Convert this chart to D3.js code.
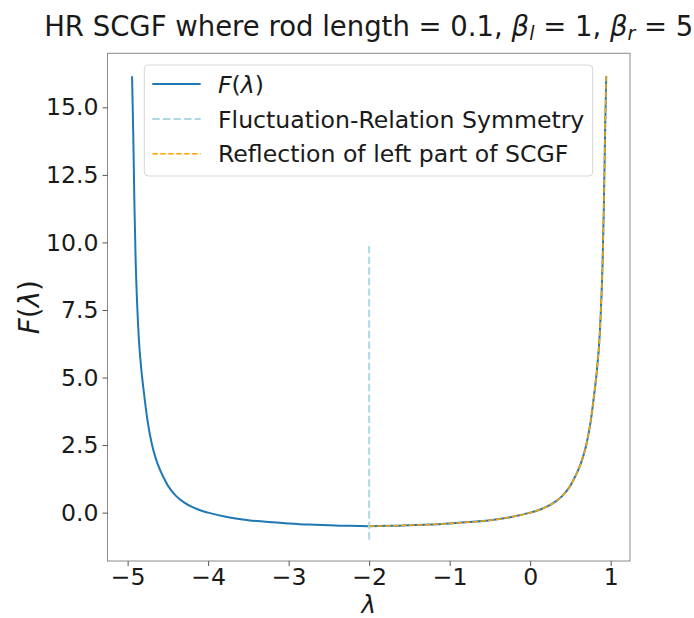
<!DOCTYPE html>
<html><head><meta charset="utf-8">
<script src="https://cdn.jsdelivr.net/npm/d3@7"></script>
<style>body{margin:0;background:#fff;} svg{display:block;font-family:"DejaVu Sans",sans-serif;}</style>
</head><body>
<svg id="c" width="694" height="618"></svg>
<script>
// SCGF F(lambda)
const lambdaVals = [-4.945,-4.93,-4.915,-4.9,-4.88,-4.86,-4.83,-4.8,-4.75,-4.7,-4.65,-4.6,-4.55,-4.5,-4.4,-4.3,-4.2,-4.1,-4.0,-3.75,-3.5,-3.25,-3.0,-2.75,-2.5,-2.25,-2.0,-1.75,-1.5,-1.25,-1.0,-0.75,-0.5,-0.25,0.0,0.1,0.2,0.3,0.4,0.5,0.55,0.6,0.65,0.7,0.75,0.8,0.83,0.86,0.88,0.9,0.915,0.93,0.945];
const fVals      = [16.15,14.0,11.3,9.3,7.6,6.4,5.3,4.5,3.35,2.55,2.0,1.6,1.28,1.0,0.62,0.38,0.21,0.09,0.0,-0.17,-0.28,-0.35,-0.40,-0.44,-0.465,-0.49,-0.50,-0.49,-0.465,-0.44,-0.40,-0.35,-0.28,-0.17,0.0,0.09,0.21,0.38,0.62,1.0,1.28,1.6,2.0,2.55,3.35,4.5,5.3,6.4,7.6,9.3,11.3,14.0,16.15];
// Fluctuation-relation symmetry line
const symX = [-2, -2];
const symY = [-1, 10];
// Reflection of left part of SCGF (lambda -> -4 - lambda)
const reflLambda = [-2.0,-1.75,-1.5,-1.25,-1.0,-0.75,-0.5,-0.25,0.0,0.1,0.2,0.3,0.4,0.5,0.55,0.6,0.65,0.7,0.75,0.8,0.83,0.86,0.88,0.9,0.915,0.93,0.945];
const reflF      = [-0.50,-0.49,-0.465,-0.44,-0.40,-0.35,-0.28,-0.17,0.0,0.09,0.21,0.38,0.62,1.0,1.28,1.6,2.0,2.55,3.35,4.5,5.3,6.4,7.6,9.3,11.3,14.0,16.15];
const xTicks = [-5,-4,-3,-2,-1,0,1];
const yTicks = [0.0,2.5,5.0,7.5,10.0,12.5,15.0];
const legendLabels = ["F(λ)","Fluctuation-Relation Symmetry","Reflection of left part of SCGF"];

const svg = d3.select("#c");
const L=107.5, R=630, T=53.3, B=561;
const x = d3.scaleLinear().domain([-5.25,1.24]).range([L,R]);
const y = d3.scaleLinear().domain([-1.79,17.0]).range([B,T]);

svg.append("defs").append("clipPath").attr("id","clip").append("rect")
  .attr("x",L).attr("y",T).attr("width",R-L).attr("height",B-T);

const g = svg.append("g").attr("clip-path","url(#clip)");
const line = d3.line().x(d=>x(d[0])).y(d=>y(d[1])).curve(d3.curveMonotoneX);
g.append("path").datum(d3.zip(lambdaVals,fVals)).attr("d",line)
  .attr("fill","none").attr("stroke","#1f77b4").attr("stroke-width",2).attr("stroke-linejoin","round");
g.append("path").datum(d3.zip(symX,symY)).attr("d",d3.line().x(d=>x(d[0])).y(d=>y(d[1])))
  .attr("fill","none").attr("stroke","#add8e6").attr("stroke-width",2).attr("stroke-dasharray","7.4,3.2");
g.append("path").datum(d3.zip(reflLambda,reflF)).attr("d",line)
  .attr("fill","none").attr("stroke","orange").attr("stroke-width",1.5).attr("stroke-dasharray","5.55,2.4");

// spines
svg.append("rect").attr("x",L).attr("y",T).attr("width",R-L).attr("height",B-T)
  .attr("fill","none").attr("stroke","#8a8a8a").attr("stroke-width",1);

const xa = svg.append("g").attr("transform",`translate(0,${B})`)
  .call(d3.axisBottom(x).tickValues(xTicks).tickSize(5).tickPadding(2).tickFormat(d=>d<0?"−"+Math.abs(d):d));
const ya = svg.append("g").attr("transform",`translate(${L},0)`)
  .call(d3.axisLeft(y).tickValues(yTicks).tickSize(5).tickPadding(4).tickFormat(d3.format(".1f")));
[xa,ya].forEach(a=>{a.select(".domain").remove();a.selectAll("line").attr("stroke","#555");
  a.selectAll("text").attr("font-size",23.6).attr("fill","#1a1a1a").attr("font-family","DejaVu Sans");});

// title
const title = svg.append("text").attr("x",(L+R)/2).attr("y",36).attr("text-anchor","middle")
  .attr("font-size",27.5).attr("fill","#1a1a1a");
title.append("tspan").text("HR SCGF where rod length = 0.1, ");
title.append("tspan").attr("font-style","italic").text("β");
title.append("tspan").attr("font-style","italic").attr("font-size",19).attr("dy",4).text("l");
title.append("tspan").attr("dy",-4).text(" = 1, ");
title.append("tspan").attr("font-style","italic").text("β");
title.append("tspan").attr("font-style","italic").attr("font-size",19).attr("dy",4).text("r");
title.append("tspan").attr("dy",-4).text(" = 5");

// axis labels
const yl = svg.append("text").attr("transform",`translate(39,${(T+B)/2}) rotate(-90)`)
  .attr("text-anchor","middle").attr("font-size",27.8).attr("fill","#1a1a1a");
yl.append("tspan").attr("font-style","italic").text("F");
yl.append("tspan").text("(");
yl.append("tspan").attr("font-style","italic").text("λ");
yl.append("tspan").text(")");
svg.append("text").attr("x",(L+R)/2).attr("y",612.5).attr("text-anchor","middle")
  .attr("font-size",24.5).attr("font-style","italic").attr("fill","#1a1a1a").text("λ");

// legend
const lg = svg.append("g");
lg.append("rect").attr("x",144.3).attr("y",65).attr("width",448.4).attr("height",111).attr("rx",4)
  .attr("fill","white").attr("fill-opacity",0.8).attr("stroke","#d6d6d6");
const rowsY=[84,119,153.7];
const styles=[{c:"#1f77b4",w:2,d:null},{c:"#add8e6",w:2,d:"7.4,3.2"},{c:"orange",w:1.5,d:"5.55,2.4"}];
legendLabels.forEach((t,i)=>{
  lg.append("line").attr("x1",152.3).attr("x2",200.7).attr("y1",rowsY[i]).attr("y2",rowsY[i])
    .attr("stroke",styles[i].c).attr("stroke-width",styles[i].w).attr("stroke-dasharray",styles[i].d);
  const tx = lg.append("text").attr("x",218).attr("y",rowsY[i]+8.5).attr("font-size",23.6).attr("fill","#1a1a1a");
  if(i===0){tx.append("tspan").attr("font-style","italic").text("F");tx.append("tspan").text("(");
    tx.append("tspan").attr("font-style","italic").text("λ");tx.append("tspan").text(")");}
  else tx.text(t);
});
</script>
</body></html>
